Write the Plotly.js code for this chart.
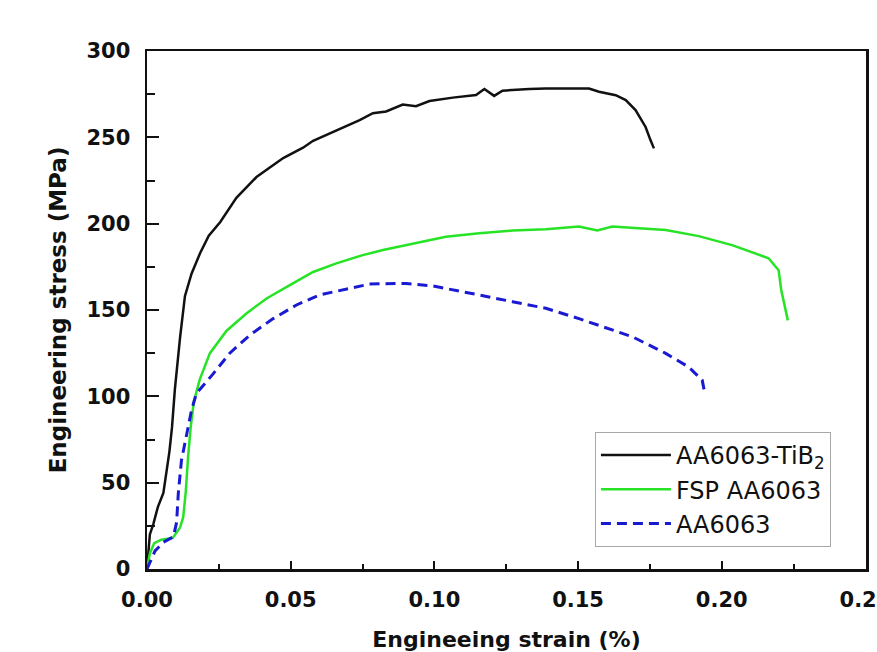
<!DOCTYPE html>
<html>
<head>
<meta charset="utf-8">
<script src="https://cdn.plot.ly/plotly-3.0.1.min.js"></script>
<style>html,body{margin:0;padding:0;background:#fff;overflow:hidden;}#chart{width:877px;height:652px;}</style>
</head>
<body>
<div id="chart"></div>
<script>
// AA6063-TiB2 (black, solid)
const strainTiB2 = [0, 0.001, 0.0022, 0.0038, 0.0057, 0.0066, 0.0078, 0.0087, 0.0097, 0.0115, 0.0132, 0.0155, 0.0185, 0.0215, 0.0255, 0.0311, 0.0381, 0.0474, 0.0543, 0.0578, 0.067, 0.074, 0.0786, 0.0832, 0.089, 0.0936, 0.0983, 0.1064, 0.1145, 0.1174, 0.1208, 0.1237, 0.133, 0.1388, 0.1538, 0.1573, 0.1631, 0.1666, 0.170, 0.1735, 0.1752, 0.1764];
const stressTiB2 = [0, 20, 26, 36, 44, 54, 68, 82, 104, 134, 158, 171, 183, 193, 201, 215, 227, 238, 244, 248, 255, 260, 264, 265, 269, 268, 271, 273, 274.5, 278, 274, 277, 278, 278.3, 278.3, 276.4, 274.4, 271.6, 265.8, 256, 248.4, 243.6];

// FSP AA6063 (green, solid)
const strainFSP = [0, 0.001, 0.0025, 0.005, 0.009, 0.0115, 0.0126, 0.0135, 0.0143, 0.0152, 0.0163, 0.0184, 0.0219, 0.0277, 0.0346, 0.0416, 0.0497, 0.0578, 0.0659, 0.0751, 0.0821, 0.0902, 0.104, 0.1156, 0.1272, 0.1388, 0.1503, 0.1567, 0.1619, 0.1712, 0.1805, 0.192, 0.2036, 0.2163, 0.2198, 0.2207, 0.2221, 0.223];
const stressFSP = [0, 9, 15, 17, 18, 24, 30, 45, 65, 82, 97, 110, 125, 138, 148, 156.7, 164.4, 172, 177, 181.8, 184.7, 187.5, 192.4, 194.4, 196, 196.7, 198.3, 196, 198.3, 197.3, 196.3, 192.8, 187.6, 180, 173, 161.6, 150, 144];

// AA6063 (blue, dashed)
const strainAA = [0, 0.0028, 0.0057, 0.0092, 0.0103, 0.0109, 0.012, 0.0138, 0.0155, 0.0172, 0.023, 0.0288, 0.0358, 0.0439, 0.052, 0.060, 0.0682, 0.0774, 0.0867, 0.0902, 0.0995, 0.1064, 0.1156, 0.1272, 0.1388, 0.1503, 0.1619, 0.1689, 0.1805, 0.1885, 0.1932, 0.1941];
const stressAA = [0, 10.5, 15.5, 18.7, 27, 44, 63, 79, 92, 101.7, 113, 125, 135.5, 145, 152.9, 158.7, 161.5, 165, 165.4, 165.4, 163.9, 161.5, 158.7, 154.8, 151, 145, 138.4, 134.5, 124.9, 117, 109.4, 101.7];

const seriesNames = ['AA6063-TiB<sub>2</sub>', 'FSP AA6063', 'AA6063'];
const xTitle = 'Engineeing strain (%)';
const yTitle = 'Engineering stress (MPa)';

const traces = [
  {x: strainTiB2, y: stressTiB2, name: seriesNames[0], type: 'scatter', mode: 'lines',
   line: {color: '#111111', width: 2.5}},
  {x: strainFSP, y: stressFSP, name: seriesNames[1], type: 'scatter', mode: 'lines',
   line: {color: '#26e326', width: 2.5}},
  {x: strainAA, y: stressAA, name: seriesNames[2], type: 'scatter', mode: 'lines',
   line: {color: '#1a1ad2', width: 3, dash: '10px,6px'}}
];

const tickFont = {family: 'DejaVu Sans', size: 21, color: '#111', weight: 'bold'};

const layout = {
  width: 877, height: 652,
  margin: {l: 147, r: 11, t: 51, b: 83},
  paper_bgcolor: '#fff', plot_bgcolor: '#fff',
  showlegend: true,
  legend: {
    x: 0.623, y: 0.2645, xanchor: 'left', yanchor: 'top',
    bgcolor: '#fff', bordercolor: '#a8a8a8', borderwidth: 1,
    font: {family: 'DejaVu Sans', size: 24, color: '#111'},
    itemwidth: 70, tracegroupgap: 0
  },
  xaxis: {
    range: [0, 0.2502], dtick: 0.05, tick0: 0, tickformat: '.2f',
    ticks: 'inside', ticklen: 8, tickwidth: 2, tickcolor: '#111',
    minor: {ticks: 'inside', ticklen: 5, dtick: 0.025, tickwidth: 2, tickcolor: '#111'},
    showline: true, mirror: true, linewidth: 2.5, linecolor: '#111',
    showgrid: false, zeroline: false,
    tickfont: tickFont, ticklabelstandoff: 10, ticklabeloverflow: 'allow',
    title: {text: xTitle, font: {family: 'DejaVu Sans', size: 22, color: '#111', weight: 'bold'}, standoff: 26}
  },
  yaxis: {
    range: [0, 300], dtick: 50, tick0: 0,
    ticks: 'inside', ticklen: 12, tickwidth: 2, tickcolor: '#111',
    minor: {ticks: 'inside', ticklen: 8, dtick: 25, tickwidth: 2, tickcolor: '#111'},
    showline: true, mirror: true, linewidth: 2.5, linecolor: '#111',
    showgrid: false, zeroline: false,
    tickfont: tickFont, ticklabelstandoff: 10,
    title: {text: yTitle, font: {family: 'DejaVu Sans', size: 23, color: '#111', weight: 'bold'}, standoff: 14}
  }
};

Plotly.newPlot('chart', traces, layout, {displayModeBar: false, staticPlot: true});
</script>
</body>
</html>
